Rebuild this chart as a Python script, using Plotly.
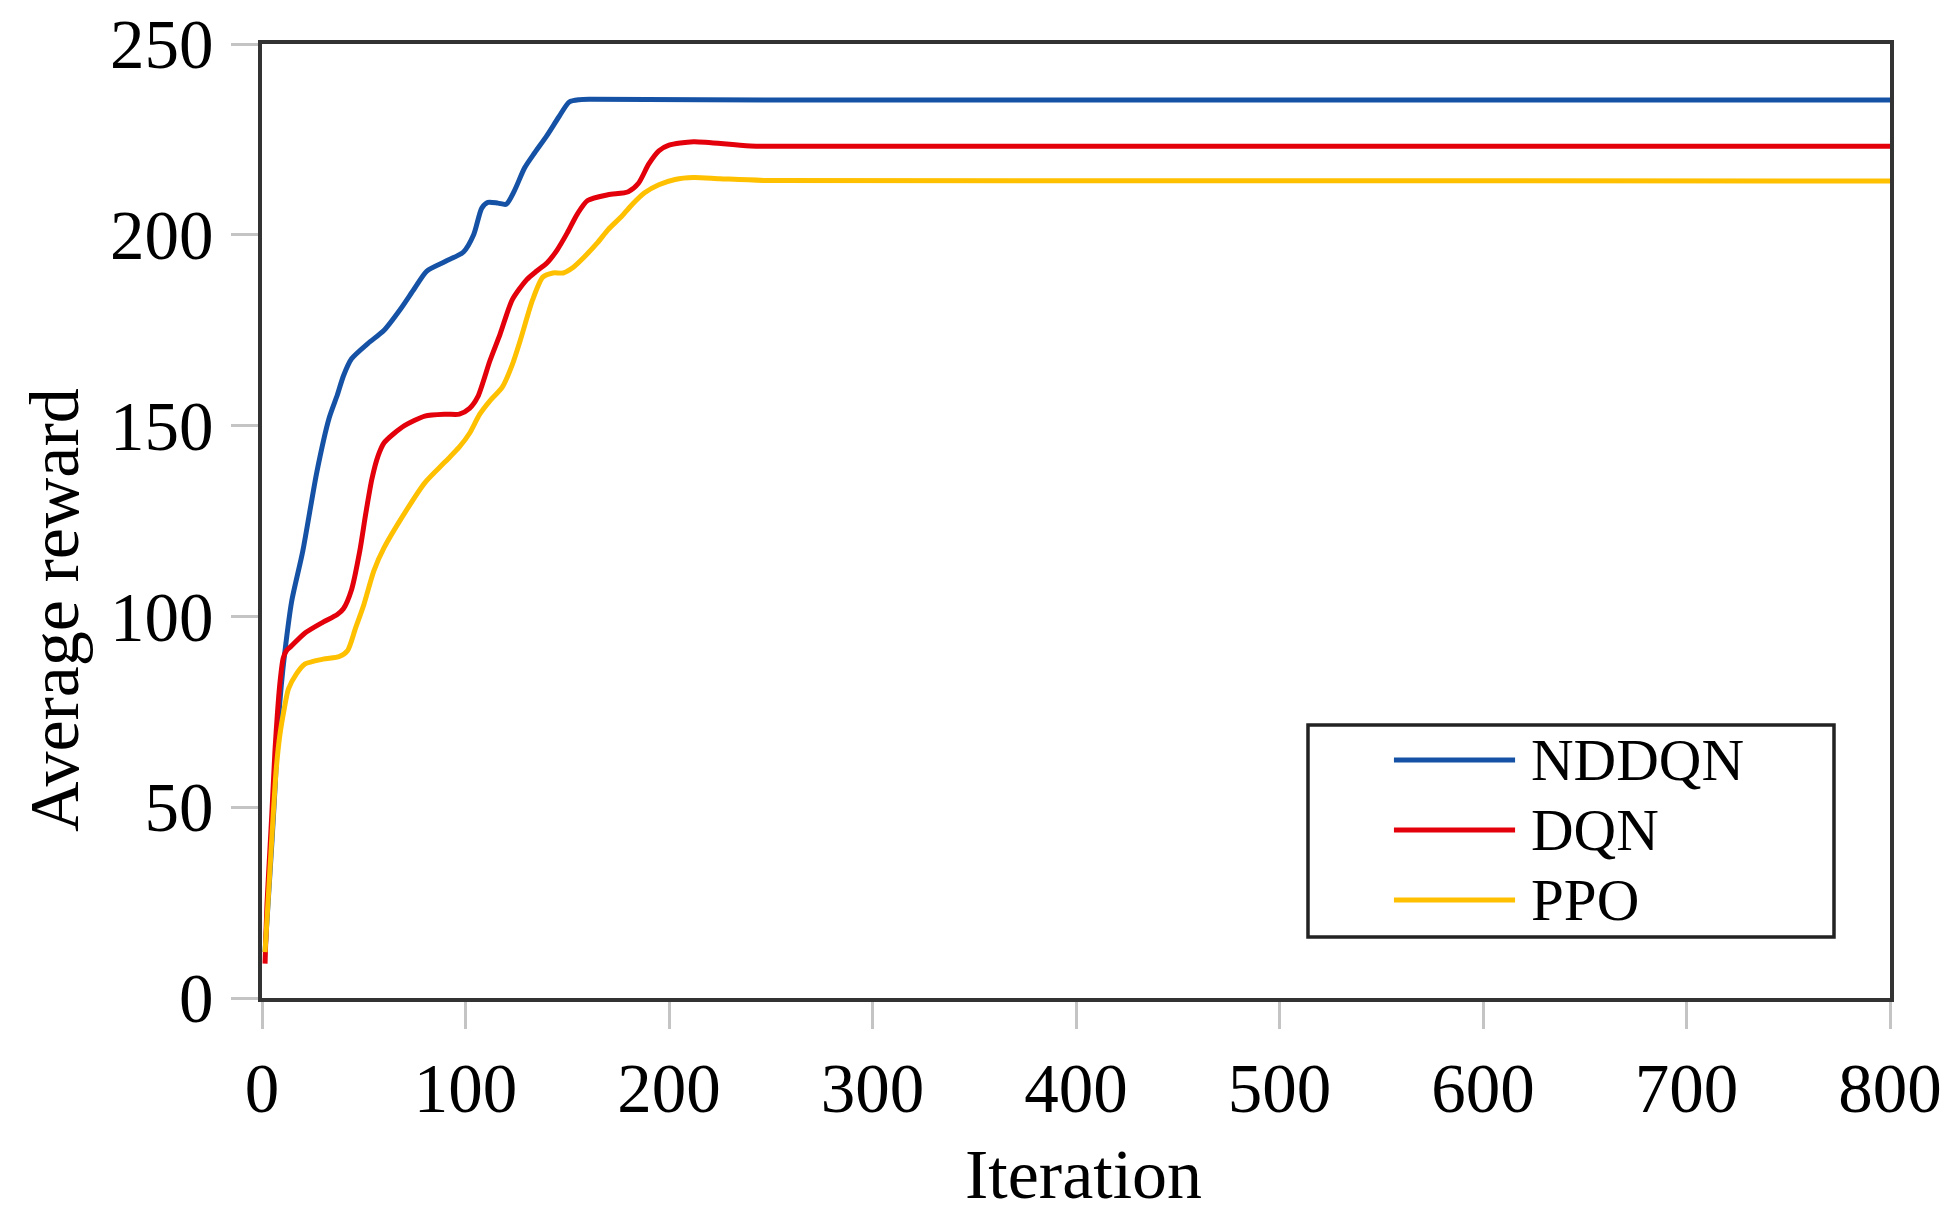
import plotly.graph_objects as go

# ---- data ----
series_names = ["NDDQN", "DQN", "PPO"]
series_colors = ["#1552A6", "#E3000B", "#FFC000"]

iter_nddqn = [1.5, 3, 5, 6.5, 8, 9.5, 11.3, 14.6, 20, 27, 33, 37, 40, 44, 52, 60, 68, 75, 81, 90,
              99, 104, 108, 111, 116, 120, 124, 129, 134, 140, 146, 151, 156, 162, 250, 800]
reward_nddqn = [12, 25, 42, 56, 72, 82, 91, 104, 117, 138, 152, 158, 163, 167.5, 171.5, 175, 180.5, 186, 190.5, 193,
                195.5, 200, 207, 208.5, 208.3, 208, 211.5, 217.5, 221.5, 226, 231, 234.8, 235.4, 235.5, 235.3, 235.3]

iter_dqn = [1.5, 2.5, 3.9, 5, 6.4, 7.5, 8.8, 10.4, 12, 14, 21, 30, 37, 40, 44, 48, 51, 54, 57, 60,
            65, 70, 80, 90, 97, 102, 106, 112, 117, 123, 130, 135, 140, 145, 150, 155, 160, 170, 180, 185,
            190, 195, 200, 212, 240, 300, 800]
reward_dqn = [9, 25, 39, 50, 65, 74, 82.5, 89, 91, 92, 95.6, 98.5, 100.5, 102, 107, 117, 127, 136, 142, 145.5,
              148, 150, 152.5, 153, 153, 154.5, 157.5, 167, 174, 183, 188.2, 190.5, 192.6, 196, 200.5, 205.5, 209, 210.5, 211.3, 213.5,
              218.5, 222, 223.5, 224.4, 223.3, 223.2, 223.2]

iter_ppo = [1.5, 3.5, 5.4, 7, 8.8, 11, 13, 17, 21, 30, 38, 42, 46, 50, 55, 60, 70, 80, 90, 97,
            102, 107, 112, 118, 123, 127, 133, 138, 143, 148, 153, 158, 165, 170, 177, 182, 188, 195, 203, 212,
            225, 250, 800]
reward_ppo = [12, 30, 47, 60, 69, 76, 81, 85, 87.5, 88.8, 89.5, 91, 97, 103, 112, 118, 127, 135, 140.5, 144.4,
              148, 153, 156.5, 160, 166, 172.5, 183, 188.9, 190, 190, 191.5, 194, 198, 201.3, 205, 208, 211, 213.1, 214.5, 215,
              214.7, 214.2, 214.1]

x_ticks = [0, 100, 200, 300, 400, 500, 600, 700, 800]
y_ticks = [0, 50, 100, 150, 200, 250]
x_title = "Iteration"
y_title = "Average reward"

FONT = "Liberation Serif, Times New Roman, serif"

fig = go.Figure()
for name, color, xs, ys in zip(series_names, series_colors,
                               [iter_nddqn, iter_dqn, iter_ppo],
                               [reward_nddqn, reward_dqn, reward_ppo]):
    fig.add_trace(go.Scatter(x=xs, y=ys, mode="lines", name=name,
                             line=dict(color=color, width=5, shape="spline", smoothing=0.7),
                             showlegend=False))

axis_common = dict(showgrid=False, zeroline=False, showline=True, linecolor="#333333", linewidth=3.5,
                   mirror=True, ticks="outside", ticklen=27, tickwidth=3, tickcolor="#c4c4c4",
                   ticklabeloverflow="allow", automargin=False,
                   tickfont=dict(family=FONT, size=69, color="black"))

fig.update_xaxes(range=[0, 800], tickvals=x_ticks, ticklabelstandoff=0, **axis_common)
fig.update_yaxes(range=[0, 250], tickvals=y_ticks, ticklabelstandoff=4, **axis_common)

# custom legend (box, line samples, labels)
shapes = [dict(type="rect", xref="paper", yref="paper", x0=0.6425, x1=0.9656, y0=0.0639, y1=0.2862,
               line=dict(color="#222222", width=3.5), fillcolor="white", layer="above")]
annotations = []
row_y = [0.2495, 0.1761, 0.1027]
for name, color, ry in zip(series_names, series_colors, row_y):
    shapes.append(dict(type="line", xref="paper", yref="paper", x0=0.6953, x1=0.7697, y0=ry, y1=ry,
                       line=dict(color=color, width=5), layer="above"))
    annotations.append(dict(xref="paper", yref="paper", x=0.7785, y=ry, xanchor="left", yanchor="middle",
                            text=name, showarrow=False, font=dict(family=FONT, size=59, color="black")))

annotations.append(dict(xref="paper", yref="paper", x=0.5043, y=-0.1845, xanchor="center", yanchor="middle",
                        text=x_title, showarrow=False, font=dict(family=FONT, size=70, color="black")))
annotations.append(dict(xref="paper", yref="paper", x=-0.1278, y=0.4067, xanchor="center", yanchor="middle",
                        text=y_title, textangle=-90, showarrow=False,
                        font=dict(family=FONT, size=70, color="black")))

# page body has an 8 px margin, so the figure is 8 px smaller and margins compensate
fig.update_layout(width=1952, height=1210, margin=dict(l=254, r=70, t=36, b=220, autoexpand=False),
                  paper_bgcolor="white", plot_bgcolor="white",
                  shapes=shapes, annotations=annotations, showlegend=False)

fig.write_html("out.html")
